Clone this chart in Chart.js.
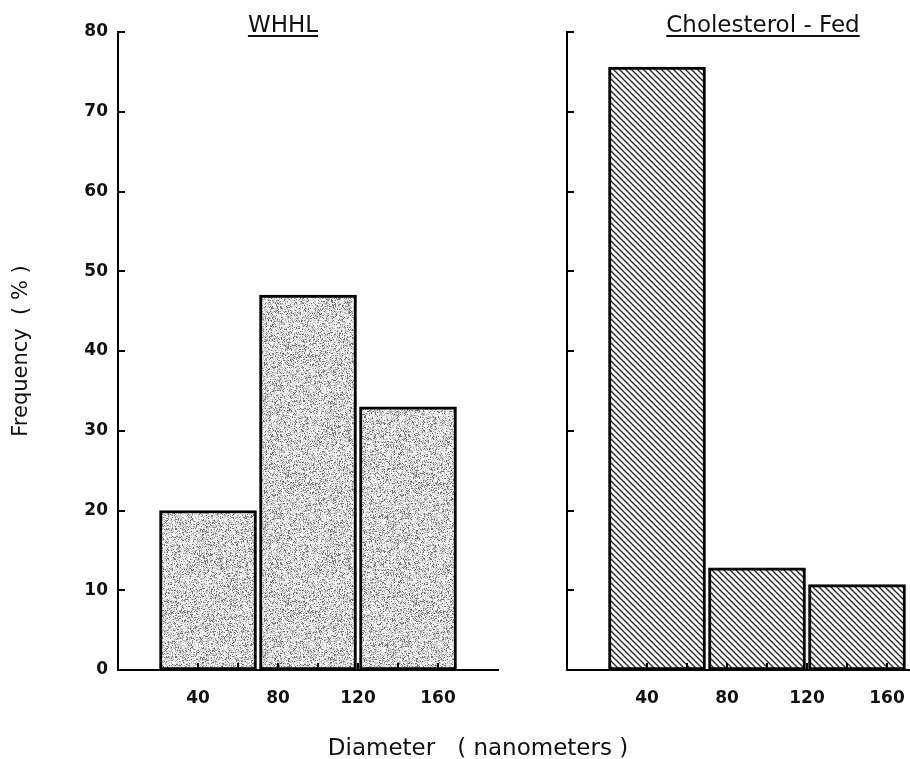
<!DOCTYPE html>
<html>
<head>
<meta charset="utf-8">
<script src="https://cdn.jsdelivr.net/npm/chart.js@4/dist/chart.umd.min.js"></script>
<style>
  html, body { margin: 0; padding: 0; background: #fff; }
  #wrap { position: relative; width: 910px; height: 759px; overflow: hidden; background: #fff; }
  canvas { position: absolute; top: 0; }
  .ttl { position: absolute; font-family: "DejaVu Sans", sans-serif; font-size: 23px; line-height: 23px;
         color: #111; white-space: pre; text-decoration: underline; text-decoration-thickness: 2px;
         text-underline-offset: 3px; transform: translateX(-50%); }
  #xlab { position: absolute; font-family: "DejaVu Sans", sans-serif; font-size: 23px; line-height: 23px;
          color: #111; white-space: pre; transform: translateX(-50%); }
</style>
</head>
<body>
<div id="wrap">
  <canvas id="left" width="520" height="759" style="left:0px"></canvas>
  <canvas id="right" width="390" height="759" style="left:520px"></canvas>
  <div class="ttl" id="t1" style="left:283px; top:13px;">WHHL</div>
  <div class="ttl" id="t2" style="left:763px; top:13px;">Cholesterol - Fed</div>
  <div id="xlab" style="left:478px; top:736px;">Diameter   ( nanometers )</div>
</div>
<script>
// ---- data ----
const binCenters = [45, 95, 145];          // diameter bin centres (nm)
const whhlValues = [20, 47, 33];           // Frequency (%) WHHL
const cholValues = [75.6, 12.8, 10.7];     // Frequency (%) Cholesterol-Fed
const xTickValues = [40, 60, 80, 100, 120, 140, 160];
const xLabelValues = [40, 80, 120, 160];
const yTickValues = [0, 10, 20, 30, 40, 50, 60, 70, 80];
const panelTitles = ['WHHL', 'Cholesterol - Fed'];
const yTitle = 'Frequency  ( % )';

// ---- fill patterns ----
function hash(x, y) {
  let n = Math.imul(x, 374761393) + Math.imul(y, 668265263);
  n = Math.imul(n ^ (n >>> 13), 1274126177);
  n = n ^ (n >>> 16);
  return (n >>> 0) / 4294967296;
}
function stipplePattern(ctx) {
  const c = document.createElement('canvas');
  c.width = 128; c.height = 128;
  const g = c.getContext('2d');
  const img = g.createImageData(128, 128);
  for (let y = 0; y < 128; y++) {
    for (let x = 0; x < 128; x++) {
      const r = hash(x, y);
      const v = r < 0.15 ? 115 : (r < 0.45 ? 190 : 243);
      const i = (y * 128 + x) * 4;
      img.data[i] = img.data[i + 1] = img.data[i + 2] = v;
      img.data[i + 3] = 255;
    }
  }
  g.putImageData(img, 0, 0);
  return ctx.createPattern(c, 'repeat');
}
function hatchPattern(ctx) {
  const s = 6;
  const c = document.createElement('canvas');
  c.width = s; c.height = s;
  const g = c.getContext('2d');
  g.fillStyle = '#fff';
  g.fillRect(0, 0, s, s);
  g.strokeStyle = '#2a2a2a';
  g.lineWidth = 1.4;
  g.beginPath();
  g.moveTo(-1, -1); g.lineTo(s + 1, s + 1);
  g.moveTo(-1, s - 1); g.lineTo(1, s + 1);
  g.moveTo(s - 1, -1); g.lineTo(s + 1, 1);
  g.stroke();
  return ctx.createPattern(c, 'repeat');
}

// inward tick marks drawn from the library's own scales
const inwardTicks = {
  id: 'inwardTicks',
  afterDraw(chart) {
    const ctx = chart.ctx;
    const xs = chart.scales.x, ys = chart.scales.y;
    ctx.save();
    ctx.strokeStyle = '#000';
    ctx.lineWidth = 2;
    ctx.beginPath();
    xTickValues.forEach(v => {
      const px = Math.round(xs.getPixelForValue(v));
      ctx.moveTo(px, xs.top);
      ctx.lineTo(px, xs.top - 7);
    });
    yTickValues.forEach(v => {
      const py = Math.round(ys.getPixelForValue(v));
      ctx.moveTo(ys.right, py);
      ctx.lineTo(ys.right + 7, py);
    });
    ctx.stroke();
    ctx.restore();
  }
};

const tickFont = { family: 'DejaVu Sans', size: 17, weight: 'bold' };

function makeChart(canvasId, values, fill, opts) {
  const canvas = document.getElementById(canvasId);
  const ctx = canvas.getContext('2d');
  return new Chart(ctx, {
    type: 'bar',
    plugins: [inwardTicks],
    data: {
      datasets: [{
        data: binCenters.map((x, i) => ({ x: x, y: values[i] })),
        backgroundColor: fill(ctx),
        borderColor: '#000',
        borderWidth: 3,
        borderSkipped: false,
        barThickness: 97
      }]
    },
    options: {
      responsive: false,
      animation: false,
      devicePixelRatio: 1,
      layout: { padding: { top: 32, right: opts.padRight, bottom: 49, left: 0 } },
      plugins: { legend: { display: false }, tooltip: { enabled: false }, title: { display: false } },
      scales: {
        x: {
          type: 'linear',
          min: 0,
          max: opts.xMax,
          offset: false,
          z: 1,
          grid: { display: false, offset: false, drawOnChartArea: false, drawTicks: false },
          border: { display: true, color: '#000', width: 2 },
          afterBuildTicks: (s) => { s.ticks = xTickValues.map(v => ({ value: v })); },
          afterFit: (s) => { s.height = 40; s.paddingLeft = 0; s.paddingRight = 0; },
          ticks: {
            padding: 18,
            color: '#111',
            font: tickFont,
            maxRotation: 0,
            autoSkip: false,
            callback: (v) => xLabelValues.includes(v) ? String(v) : ''
          }
        },
        y: {
          min: 0,
          max: 80,
          z: 1,
          grid: { display: false, drawOnChartArea: false, drawTicks: false },
          border: { display: true, color: '#000', width: 2 },
          afterBuildTicks: (s) => { s.ticks = yTickValues.map(v => ({ value: v })); },
          afterFit: (s) => { s.width = opts.yWidth; s.paddingTop = 0; s.paddingBottom = 0; },
          title: opts.showYTitle ? {
            display: true, text: yTitle, color: '#111',
            font: { family: 'DejaVu Sans', size: 21 }, padding: { top: 9, bottom: 0 }
          } : { display: false },
          ticks: {
            padding: 10,
            color: '#111',
            font: tickFont,
            autoSkip: false,
            callback: (v) => opts.showYLabels ? String(v) : ''
          }
        }
      }
    }
  });
}

makeChart('left', whhlValues, stipplePattern,
  { padRight: 22, xMax: 190, yWidth: 118, showYTitle: true, showYLabels: true });
makeChart('right', cholValues, hatchPattern,
  { padRight: 0, xMax: 171.5, yWidth: 47, showYTitle: false, showYLabels: false });
</script>
</body>
</html>
